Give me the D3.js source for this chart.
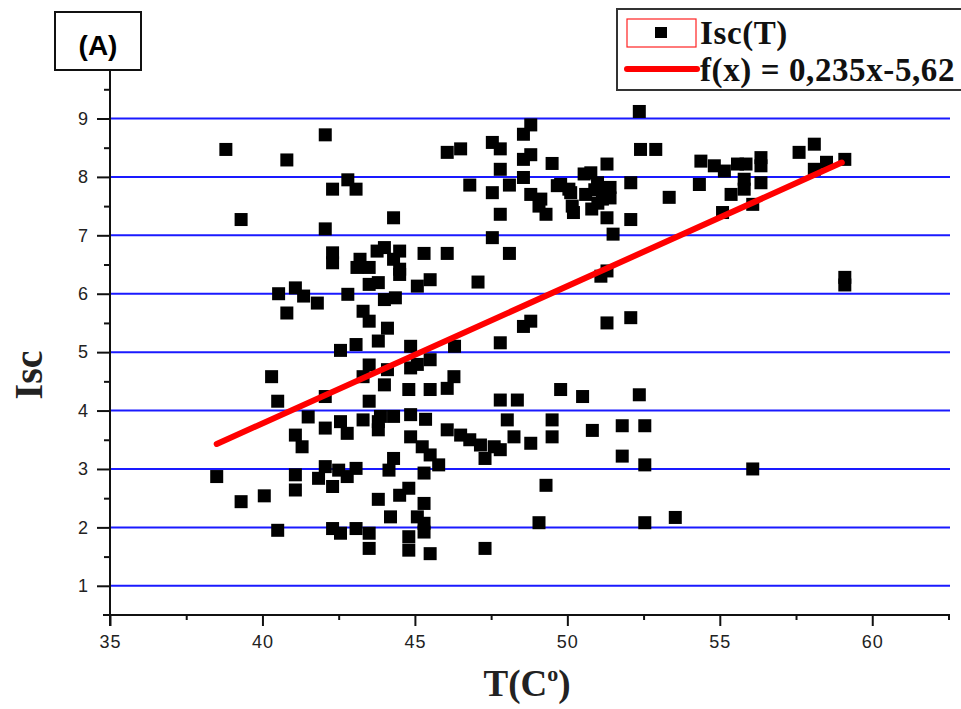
<!DOCTYPE html>
<html>
<head>
<meta charset="utf-8">
<script src="https://cdn.jsdelivr.net/npm/d3@7"></script>
<style>
  html, body { margin: 0; padding: 0; background: #fff; }
  svg { display: block; }
</style>
</head>
<body>
<svg id="chart" width="961" height="709"></svg>
<script>
// ---- data ----
const T = [38.8,39.3,38.5,39.3,40.06,40.3,40.5,40.5,40.8,40.53,41.08,41.35,40.8,41.8,41.5,41.08,41.3,41.08,41.08,
42.06,42.8,42.3,43.07,42.06,42.3,42.3,43.2,43.1,43.5,43.76,44.0,43.5,43.8,42.8,43.3,43.5,44.0,44.1,42.56,43.07,43.8,
43.5,43.3,44.0,42.06,43.5,42.06,42.56,42.78,43.3,43.8,43.8,42.06,41.84,42.5,43.07,42.78,42.3,43.8,44.2,42.3,42.56,
43.07,43.5,43.5,48.8,48.56,46.06,46.5,47.54,47.8,48.56,48.8,49.5,47.8,46.8,47.54,48.1,48.56,48.8,49.13,49.3,49.07,
49.67,50.05,50.16,50.2,47.8,44.3,47.54,48.1,45.3,46.06,44.5,44.3,44.5,44.5,45.5,45.08,47.07,44.36,48.8,48.56,47.8,
44.86,46.3,44.1,44.86,45.08,45.5,46.28,46.06,44.8,45.5,47.8,48.36,49.78,50.5,43.87,44.3,44.86,45.35,48.03,49.5,49.5,
44.86,45.24,45.5,45.78,44.3,44.15,45.3,46.06,46.5,46.8,47.15,47.6,47.8,48.25,48.8,47.3,49.3,49.07,44.8,44.5,45.3,
45.08,45.3,45.3,44.8,44.8,45.5,47.3,52.36,52.4,52.9,51.3,52.08,53.34,54.38,54.82,55.15,55.58,55.86,56.35,56.35,
54.33,55.8,55.8,55.37,56.35,55.09,56.08,57.6,58.1,58.1,58.5,59.1,51.3,52.08,51.5,59.1,59.1,51.1,51.3,51.3,52.08,
52.36,50.82,51.8,52.54,51.8,52.54,56.08,52.54,53.54,49.78,50.11,50.55,50.77,50.99,51.2,51.4,50.9,51.15,51.4,51.0,
50.6,50.8];
const Isc = [8.47,7.27,2.87,2.44,2.54,4.58,4.16,1.95,8.29,6.0,6.1,5.96,5.67,5.84,3.89,3.58,3.38,2.90,2.64,
8.72,7.95,7.79,7.79,7.11,6.70,6.53,6.59,6.45,6.45,6.73,6.79,6.16,6.19,5.99,5.7,5.53,5.9,5.41,5.03,5.13,5.19,
4.78,4.58,4.44,4.24,4.16,3.70,3.81,3.61,3.84,3.81,3.67,3.04,2.84,2.98,3.01,2.87,2.70,2.48,2.18,1.98,1.90,
1.98,1.90,1.64,8.89,8.73,8.42,8.48,8.59,8.48,8.30,8.38,8.23,8.13,7.86,7.73,7.86,7.99,7.70,7.62,7.36,7.50,
7.85,7.79,7.50,7.39,7.36,7.30,6.96,6.69,6.69,6.69,6.73,6.59,6.42,6.33,6.24,6.13,6.20,5.93,5.53,5.44,5.16,
5.10,5.10,4.70,4.73,4.79,4.87,4.58,4.38,4.36,4.36,4.18,4.18,4.36,4.24,3.90,3.90,3.93,3.85,3.84,3.84,3.55,
3.55,3.38,3.24,3.07,3.18,2.98,2.93,3.67,3.58,3.50,3.41,3.38,3.33,3.55,3.44,3.18,2.72,2.08,2.67,2.55,2.41,
2.18,2.07,1.92,1.84,1.61,1.55,1.64,9.12,8.47,8.47,8.22,7.90,7.65,8.27,8.19,8.10,8.22,8.22,8.33,8.19,
7.87,7.96,7.79,7.70,7.90,7.39,7.53,8.42,8.56,8.13,8.25,8.30,7.30,7.27,7.02,6.15,6.28,6.30,6.39,5.50,5.59,
4.27,3.66,3.74,3.74,3.22,3.07,3.00,2.08,2.17,7.87,7.73,8.05,8.07,7.90,7.70,7.64,7.78,7.62,7.82,7.55,
7.7,7.45];
const xTicks = [35, 40, 45, 50, 55, 60];
const yTicks = [1, 2, 3, 4, 5, 6, 7, 8, 9];
const fitSlope = 0.235, fitIntercept = -5.62;
const fitRange = [38.5, 59];
const xTitle = "T(C", xTitleSup = "o", xTitleEnd = ")";
const yTitle = "Isc";
const legendLabels = ["Isc(T)", "f(x) = 0,235x-5,62"];
const panelLabel = "(A)";

// ---- layout ----
const svg = d3.select("#chart");
const x = d3.scaleLinear().domain([35, 62.55]).range([110, 950]);
const y = d3.scaleLinear().domain([0.5, 9.83]).range([615, 70]);
const serif = "'Liberation Serif','Times New Roman',serif";
const sans = "'Liberation Sans',Arial,sans-serif";

// grid lines
svg.append("g").selectAll("line").data(yTicks).join("line")
  .attr("x1", x(35)).attr("x2", x(62.55))
  .attr("y1", d => y(d)).attr("y2", d => y(d))
  .attr("stroke", "#1a1aff").attr("stroke-width", 2);

// axes
const xAxis = d3.axisBottom(x).tickValues(xTicks).tickSize(11).tickPadding(9).tickFormat(d3.format("d"));
const gx = svg.append("g").attr("transform", `translate(0,${y(0.5)})`).call(xAxis);
const xMinor = d3.axisBottom(x).tickValues(d3.range(37.5, 62.6, 5)).tickSize(5).tickFormat("");
const gxm = svg.append("g").attr("transform", `translate(0,${y(0.5)})`).call(xMinor);
const yAxis = d3.axisLeft(y).tickValues(yTicks).tickSize(13).tickPadding(8).tickFormat(d3.format("d"));
const gy = svg.append("g").attr("transform", `translate(${x(35)},0)`).call(yAxis);
const yMinor = d3.axisLeft(y).tickValues(d3.range(1.5, 9.6, 1)).tickSize(6).tickFormat("");
const gym = svg.append("g").attr("transform", `translate(${x(35)},0)`).call(yMinor);
[gx, gxm, gy, gym].forEach(g => {
  g.select(".domain").remove();
  g.selectAll(".tick line").attr("stroke", "#111").attr("stroke-width", 2);
  g.selectAll(".tick text").attr("fill", "#222").attr("font-family", sans)
    .attr("font-size", 18).attr("letter-spacing", 1);
});
// axis lines (extended like Origin)
svg.append("line").attr("x1", x(35) - 7).attr("x2", x(62.55))
  .attr("y1", y(0.5)).attr("y2", y(0.5)).attr("stroke", "#111").attr("stroke-width", 2);
svg.append("line").attr("x1", x(35)).attr("x2", x(35))
  .attr("y1", y(0.5) + 11).attr("y2", y(9.83)).attr("stroke", "#111").attr("stroke-width", 2);

// points
const pts = T.map((t, i) => [t, Isc[i]]);
const s = 13;
svg.append("g").selectAll("rect").data(pts).join("rect")
  .attr("x", d => x(d[0]) - s / 2).attr("y", d => y(d[1]) - s / 2)
  .attr("width", s).attr("height", s).attr("fill", "#000");

// regression line
svg.append("line")
  .attr("x1", x(fitRange[0])).attr("y1", y(fitSlope * fitRange[0] + fitIntercept))
  .attr("x2", x(fitRange[1])).attr("y2", y(fitSlope * fitRange[1] + fitIntercept))
  .attr("stroke", "#ff0000").attr("stroke-width", 6).attr("stroke-linecap", "round");

// axis titles
svg.append("text").attr("transform", "translate(42,375) rotate(-90)")
  .attr("text-anchor", "middle").attr("font-family", serif).attr("font-weight", "bold")
  .attr("font-size", 40).attr("fill", "#222").text(yTitle);
const xt = svg.append("text").attr("x", 527).attr("y", 696)
  .attr("text-anchor", "middle").attr("font-family", serif).attr("font-weight", "bold")
  .attr("font-size", 37).attr("fill", "#222");
xt.append("tspan").text(xTitle);
xt.append("tspan").attr("font-size", 22).attr("dy", -15).text(xTitleSup);
xt.append("tspan").attr("dy", 15).text(xTitleEnd);

// panel label box
svg.append("rect").attr("x", 55).attr("y", 12).attr("width", 86).attr("height", 58)
  .attr("fill", "#fff").attr("stroke", "#111").attr("stroke-width", 2);
svg.append("text").attr("x", 98).attr("y", 55).attr("text-anchor", "middle")
  .attr("font-family", sans).attr("font-weight", "bold").attr("font-size", 28)
  .attr("fill", "#000").text(panelLabel);

// legend
svg.append("rect").attr("x", 617).attr("y", 9).attr("width", 360).attr("height", 81)
  .attr("fill", "#fff").attr("stroke", "#333").attr("stroke-width", 2);
svg.append("rect").attr("x", 627).attr("y", 19).attr("width", 69).attr("height", 28)
  .attr("fill", "#fff").attr("stroke", "#f22").attr("stroke-width", 1.2);
svg.append("rect").attr("x", 655).attr("y", 27).attr("width", 12).attr("height", 11).attr("fill", "#000");
svg.append("line").attr("x1", 627).attr("x2", 697).attr("y1", 69).attr("y2", 69)
  .attr("stroke", "#ff0000").attr("stroke-width", 6).attr("stroke-linecap", "round");
svg.append("text").attr("x", 700).attr("y", 44).attr("font-family", serif).attr("font-weight", "bold")
  .attr("font-size", 33).attr("letter-spacing", 0.6).attr("fill", "#111").text(legendLabels[0]);
svg.append("text").attr("x", 700).attr("y", 81).attr("font-family", serif).attr("font-weight", "bold")
  .attr("font-size", 33).attr("letter-spacing", 0.6).attr("fill", "#111").text(legendLabels[1]);
</script>
</body>
</html>
